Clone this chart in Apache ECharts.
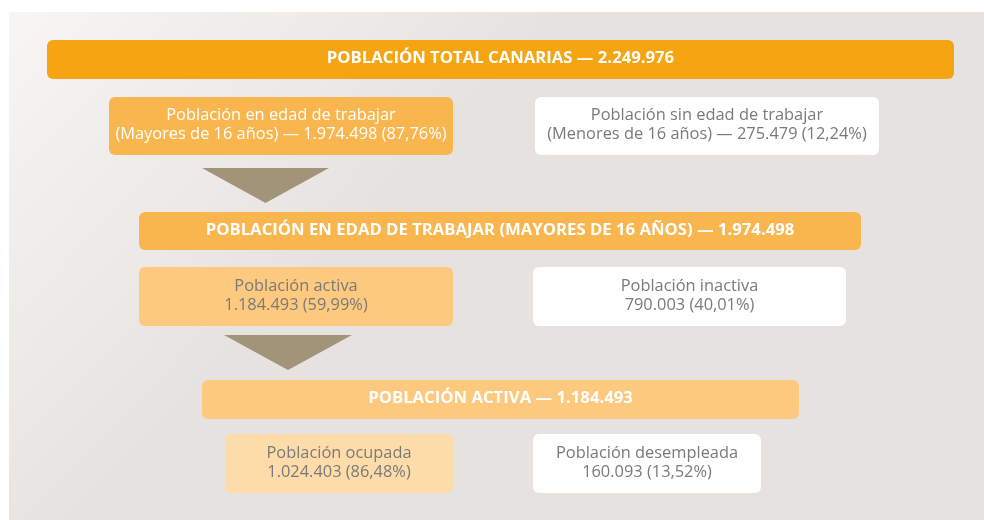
<!DOCTYPE html>
<html>
<head>
<meta charset="utf-8">
<script src="https://cdn.jsdelivr.net/npm/echarts@6/dist/echarts.min.js"></script>
<style>
  html, body { margin: 0; padding: 0; background: #ffffff; }
  #main { width: 984px; height: 520px; }
</style>
</head>
<body>
<div id="main"></div>
<script>
    // values
    var headerLabels = ['POBLACIÓN TOTAL CANARIAS', 'POBLACIÓN EN EDAD DE TRABAJAR (MAYORES DE 16 AÑOS)', 'POBLACIÓN ACTIVA'];
    var headerValues = [2249976, 1974498, 1184493];
    var splitLabels = ['Población en edad de trabajar', 'Población sin edad de trabajar', 'Población activa', 'Población inactiva', 'Población ocupada', 'Población desempleada'];
    var splitNotes = ['(Mayores de 16 años)', '(Menores de 16 años)', '', '', '', ''];
    var splitValues = [1974498, 275479, 1184493, 790003, 1024403, 160093];
    var splitShares = [87.76, 12.24, 59.99, 40.01, 86.48, 13.52];

    // layout (x0, y0, x1, y1 in px on the hidden axes)
    var headerLayout = [[47, 40, 954, 79], [139, 212, 861, 250], [202, 380, 799, 419]];
    var splitLayout = [[109, 97, 453, 155], [535, 97, 879, 155], [139, 267, 453, 326], [533, 267, 846, 326], [225, 434, 453, 493], [533, 434, 761, 493]];
    var arrowLayout = [[202, 329, 168, 203], [224, 352, 335, 370]];

    var headerFill = ['#f5a512', '#f9b54e', '#fcc97f'];
    var splitFill = ['#f9b54e', '#ffffff', '#fcc97f', '#ffffff', '#fddca9', '#ffffff'];
    var splitText = ['#ffffff', '#7a7a7a', '#7a7a7a', '#7a7a7a', '#7a7a7a', '#7a7a7a'];

    function fmtNum(n) {
        return String(n).replace(/\B(?=(\d{3})+(?!\d))/g, '.');
    }
    function fmtPct(p) {
        return p.toFixed(2).replace('.', ',') + '%';
    }

    function boxItem(api, fill, text, textColor, font) {
        var p0 = api.coord([api.value(0), api.value(1)]);
        var p1 = api.coord([api.value(2), api.value(3)]);
        return {
            type: 'group',
            children: [{
                type: 'rect',
                shape: { x: p0[0], y: p0[1], width: p1[0] - p0[0], height: p1[1] - p0[1], r: 6 },
                style: { fill: fill }
            }, {
                type: 'text',
                x: (p0[0] + p1[0]) / 2,
                y: (p0[1] + p1[1]) / 2 - 1,
                style: {
                    text: text,
                    fill: textColor,
                    font: font,
                    align: 'center',
                    verticalAlign: 'middle',
                    lineHeight: 19
                }
            }]
        };
    }

    var chart = echarts.init(document.getElementById('main'), null, {renderer: 'canvas'});
    chart.setOption({
        animation: false,
        graphic: [{
            type: 'rect',
            z: -10,
            shape: { x: 9, y: 12, width: 975, height: 508 },
            style: {
                fill: new echarts.graphic.LinearGradient(0, 0, 0.3, 0.55, [
                    { offset: 0, color: '#f7f6f4' },
                    { offset: 1, color: '#e6e2df' }
                ])
            }
        }],
        grid: { left: 0, top: 0, width: 984, height: 520 },
        xAxis: { type: 'value', min: 0, max: 984, show: false },
        yAxis: { type: 'value', min: 0, max: 520, inverse: true, show: false },
        series: [{
            type: 'custom',
            data: headerLayout,
            renderItem: function (params, api) {
                var i = params.dataIndex;
                return boxItem(api, headerFill[i], headerLabels[i] + ' — ' + fmtNum(headerValues[i]),
                    '#ffffff', 'bold 16.7px "Open Sans"');
            }
        }, {
            type: 'custom',
            data: splitLayout,
            renderItem: function (params, api) {
                var i = params.dataIndex;
                var line2 = fmtNum(splitValues[i]) + ' (' + fmtPct(splitShares[i]) + ')';
                if (splitNotes[i]) {
                    line2 = splitNotes[i] + ' — ' + line2;
                }
                return boxItem(api, splitFill[i], splitLabels[i] + '\n' + line2,
                    splitText[i], '16.4px "Open Sans"');
            }
        }, {
            type: 'custom',
            data: arrowLayout,
            renderItem: function (params, api) {
                var a = api.coord([api.value(0), api.value(2)]);
                var b = api.coord([api.value(1), api.value(2)]);
                var c = api.coord([(api.value(0) + api.value(1)) / 2, api.value(3)]);
                return {
                    type: 'polygon',
                    shape: { points: [a, b, c] },
                    style: { fill: '#a29479' }
                };
            }
        }]
    });
</script>
</body>
</html>
